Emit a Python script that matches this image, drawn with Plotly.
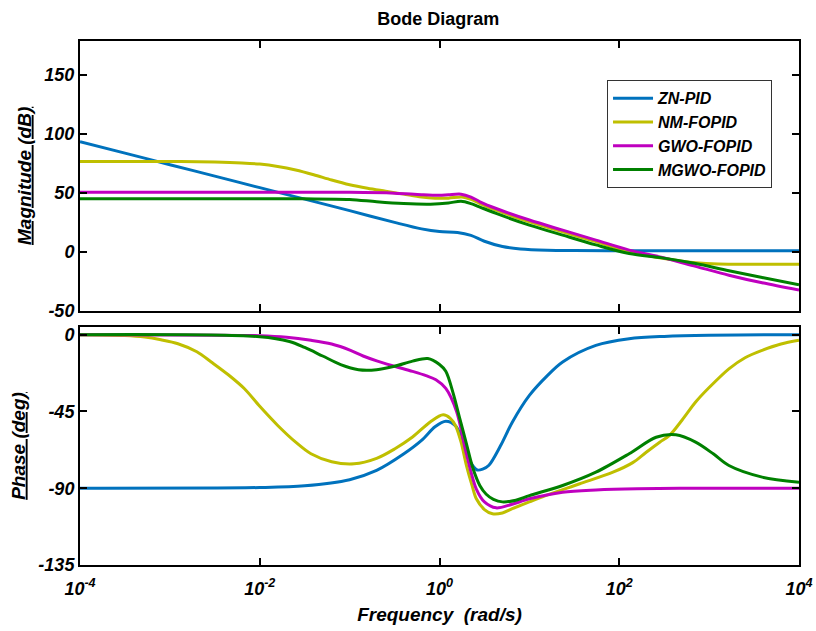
import numpy as np
import plotly.graph_objects as go

# Controller names and line colours
names = ["ZN-PID", "NM-FOPID", "GWO-FOPID", "MGWO-FOPID"]
colors = ["#0072BD", "#BFBF00", "#BF00BF", "#008000"]

# ---- Magnitude (dB), frequency given as log10(rad/s) ----
zn_mag_exp = [-4, -3.5, -3, -2.5, -2, -1.5, -1, -0.5, -0.2, 0, 0.2, 0.35, 0.5, 0.7, 0.9, 1.2, 1.5, 2, 3, 4]
zn_mag_db = [93.5, 83.8, 74, 64.3, 54.5, 44.8, 35, 25, 19.5, 17.2, 16.5, 14, 9, 4.5, 2.5, 1.4, 1.1, 1, 1, 1]

nm_mag_exp = [-4, -3, -2.5, -2.2, -2, -1.8, -1.6, -1.4, -1.2, -1, -0.8, -0.6, -0.4, -0.2, -0.05, 0.1, 0.25,
              0.35, 0.45, 0.63, 1, 1.37, 1.74, 2.11, 2.3, 2.48, 2.7, 2.85, 3.1, 3.5, 4]
nm_mag_db = [76.8, 76.8, 76.3, 75.5, 74.5, 72.5, 69.5, 65.5, 61, 57, 54, 51.5, 49, 46.5, 45.5, 45.6, 46.5,
             44.5, 41, 35.4, 25.5, 17, 8.7, 0, -3, -5.5, -8, -9.3, -10.3, -10.5, -10.5]

gwo_mag_exp = [-4, -2, -1, -0.5, -0.2, 0, 0.1, 0.24, 0.35, 0.45, 0.63, 1, 1.37, 1.74, 2.11, 2.48, 2.85, 3.22, 3.59, 4]
gwo_mag_db = [50.5, 50.5, 50.5, 49.8, 48.5, 48, 48.5, 49, 46.5, 42.5, 36.8, 27, 18.4, 10, 1.5, -4.8, -12.3, -19.8, -26.3, -32.5]

mgwo_mag_exp = [-4, -2, -1.5, -1, -0.7, -0.4, -0.1, 0.1, 0.24, 0.35, 0.45, 0.63, 1, 1.37, 1.74, 2.11, 2.48, 2.85, 3.22, 3.59, 4]
mgwo_mag_db = [45, 45, 45, 44.5, 42.5, 41, 40.5, 41.5, 43, 41, 38, 32.6, 22.7, 14.2, 5.9, -1.4, -5.1, -9.9, -16.1, -21.8, -28]

# ---- Phase (deg) ----
zn_ph_exp = [-4, -2, -1.5, -1, -0.7, -0.4, -0.2, -0.05, 0.07, 0.18, 0.25, 0.3, 0.36, 0.42, 0.48, 0.55, 0.68,
             0.81, 1, 1.2, 1.37, 1.74, 2.11, 2.5, 3, 4]
zn_ph_deg = [-90, -89.6, -88.6, -85, -79.6, -70, -62, -54, -50.7, -53.5, -61, -69, -76, -79.3, -78.8, -76.5, -65,
             -51.3, -35.6, -24, -16, -6.3, -2.4, -1, -0.3, 0]

nm_ph_exp = [-4, -3.5, -3.28, -3.1, -2.91, -2.7, -2.54, -2.35, -2.17, -2, -1.8, -1.6, -1.43, -1.2, -0.95, -0.7,
             -0.5, -0.3, -0.1, 0.04, 0.12, 0.18, 0.24, 0.3, 0.36, 0.41, 0.5, 0.59, 0.7, 0.81, 1, 1.18, 1.56,
             1.93, 2.15, 2.3, 2.45, 2.56, 2.7, 2.85, 3, 3.22, 3.4, 3.59, 3.8, 4]
nm_ph_deg = [0, -0.5, -1.4, -3, -5.3, -10, -16, -23.5, -31.7, -42, -53.2, -63, -69.8, -74.5, -75.7, -72.5,
             -67, -60, -51, -47, -49, -53.5, -63, -76.7, -88, -96.2, -102.5, -105, -104.5, -102, -98, -94.3, -87.4,
             -80.6, -75, -68.9, -63, -59, -50, -39.5, -31, -20, -13.5, -9.2, -5.5, -3.3]

gwo_ph_exp = [-4, -2, -1.7, -1.43, -1.2, -0.99, -0.85, -0.69, -0.5, -0.3, -0.15, -0.04, 0.07, 0.19, 0.3, 0.41,
              0.5, 0.63, 0.8, 1, 1.37, 1.74, 2.2, 3, 4]
gwo_ph_deg = [0, -0.6, -1.5, -3.3, -5.5, -9.2, -12.5, -15.5, -18.5, -21.5, -24, -26.4, -31.5, -45, -70, -90.5,
              -98, -101.5, -99.5, -96.2, -92.3, -91, -90.3, -90, -90]

mgwo_ph_exp = [-4, -2, -1.67, -1.5, -1.3, -1.1, -0.9, -0.7, -0.5, -0.3, -0.13, 0, 0.07, 0.15, 0.22, 0.3, 0.37,
               0.45, 0.52, 0.6, 0.7, 0.85, 1, 1.37, 1.74, 2.11, 2.41, 2.63, 2.85, 3.05, 3.22, 3.59, 4]
mgwo_ph_deg = [0, -1.2, -4, -7.5, -12.5, -17.5, -20.5, -20.5, -18.5, -15.5, -14, -17.5, -21.5, -34, -48, -64, -78,
               -88.5, -93.5, -96.5, -98, -97, -94.3, -88.4, -80.6, -69.8, -60.1, -58.7, -63, -70, -76.7, -83.5, -86.5]

mag_series = [(zn_mag_exp, zn_mag_db), (nm_mag_exp, nm_mag_db), (gwo_mag_exp, gwo_mag_db), (mgwo_mag_exp, mgwo_mag_db)]
ph_series = [(zn_ph_exp, zn_ph_deg), (nm_ph_exp, nm_ph_deg), (gwo_ph_exp, gwo_ph_deg), (mgwo_ph_exp, mgwo_ph_deg)]

freq_ticks = [1e-4, 1e-2, 1e0, 1e2, 1e4]
freq_tick_text = ["10<sup>-4</sup>", "10<sup>-2</sup>", "10<sup>0</sup>", "10<sup>2</sup>", "10<sup>4</sup>"]
mag_ticks = [-50, 0, 50, 100, 150]
phase_ticks = [-135, -90, -45, 0]

FONT = "Liberation Sans, Arial, sans-serif"

fig = go.Figure()
for i, name in enumerate(names):
    ex, val = mag_series[i]
    fig.add_trace(go.Scatter(
        x=np.power(10.0, ex), y=val, mode="lines", name=name,
        line=dict(color=colors[i], width=3, shape="spline", smoothing=0.9),
        xaxis="x", yaxis="y", showlegend=True))
for i, name in enumerate(names):
    ex, val = ph_series[i]
    fig.add_trace(go.Scatter(
        x=np.power(10.0, ex), y=val, mode="lines", name=name,
        line=dict(color=colors[i], width=3, shape="spline", smoothing=0.9),
        xaxis="x2", yaxis="y2", showlegend=False))

tickfont = dict(family=FONT, size=18, color="black", weight="bold", style="italic")
axis_common = dict(showline=True, linecolor="black", linewidth=2, mirror="ticks",
                   ticks="inside", ticklen=7, tickwidth=2, tickcolor="black",
                   showgrid=False, zeroline=False, tickfont=tickfont, automargin=False)
title_font = dict(family=FONT, size=19, color="black", weight="bold", style="italic")

fig.update_layout(
    width=816, height=631,
    margin=dict(l=80, r=17, t=41, b=66),
    paper_bgcolor="white", plot_bgcolor="white",
    font=dict(family=FONT, color="black"),
    title=dict(text="<b>Bode Diagram</b>", x=0.537, xanchor="center", y=0.971, yanchor="middle",
               font=dict(family=FONT, size=18, color="black")),
    xaxis=dict(type="log", range=[-4, 4], domain=[0, 1], anchor="y",
               tickvals=freq_ticks, showticklabels=False, **axis_common),
    yaxis=dict(range=[-50, 179], domain=[0.4852, 1], anchor="x",
               tickvals=mag_ticks, ticktext=[str(v) for v in mag_ticks],
               title=dict(text="<u>Magnitude (dB)</u>", standoff=8, font=title_font),
               **axis_common),
    xaxis2=dict(type="log", range=[-4, 4], domain=[0, 1], anchor="y2",
                tickvals=freq_ticks, ticktext=freq_tick_text, ticklabelstandoff=6,
                title=dict(text="Frequency  (rad/s)", standoff=10, font=title_font),
                **axis_common),
    yaxis2=dict(range=[-135, 4.5], domain=[0, 0.4542], anchor="x2",
                tickvals=phase_ticks, ticktext=[str(v) for v in phase_ticks],
                title=dict(text="<u>Phase (deg)</u>", standoff=8, font=title_font),
                **axis_common),
    legend=dict(x=0.733, y=0.925, xanchor="left", yanchor="top",
                bgcolor="white", bordercolor="#333333", borderwidth=1,
                font=dict(family=FONT, size=16, color="black", weight="bold", style="italic"),
                tracegroupgap=0, itemwidth=40),
)

fig.write_html("out.html")
